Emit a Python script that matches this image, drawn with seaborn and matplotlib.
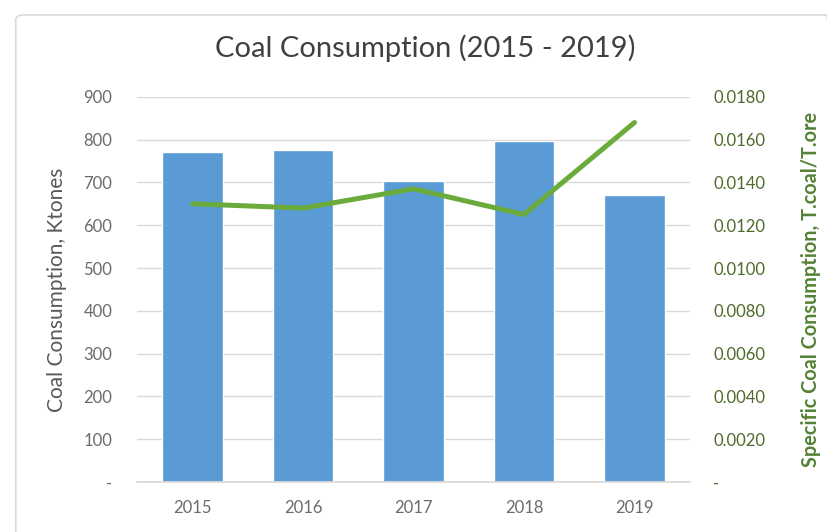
import matplotlib
matplotlib.use("Agg")
import matplotlib.pyplot as plt
import seaborn as sns
import numpy as np
from matplotlib.patches import FancyBboxPatch
from matplotlib.ticker import FixedLocator, FuncFormatter

years = ["2015", "2016", "2017", "2018", "2019"]
coal_ktones = [771, 776, 703, 797, 670]
specific_coal = [0.0130, 0.0128, 0.0137, 0.0125, 0.0168]
left_ticks = [0, 100, 200, 300, 400, 500, 600, 700, 800, 900]
right_ticks = [0, 0.002, 0.004, 0.006, 0.008, 0.010, 0.012, 0.014, 0.016, 0.018]

sns.set_theme(style="white")
plt.rcParams['font.family'] = ['Lato', 'DejaVu Sans']

fig = plt.figure(figsize=(8.27, 5.32), dpi=100)
fig.patch.set_facecolor("white")
frame = FancyBboxPatch((0.019, -0.05), 0.99, 1.022, boxstyle="round,pad=0,rounding_size=0.01",
                       transform=fig.transFigure, fill=False, edgecolor="#d9d9d9", linewidth=1.2)
fig.patches.append(frame)

ax = fig.add_axes([0.166, 0.094, 0.668, 0.724])
sns.barplot(x=years, y=coal_ktones, color="#5B9BD5", saturation=1, width=0.55, ax=ax)
ax.set_ylim(0, 900)
ax.yaxis.set_major_locator(FixedLocator(left_ticks))
ax.yaxis.set_major_formatter(FuncFormatter(lambda v, p: "-" if v == 0 else f"{int(v)}"))
ax.grid(axis="y", color="#d9d9d9", linewidth=1)
ax.set_axisbelow(True)
for s in ax.spines.values():
    s.set_visible(False)
ax.spines["bottom"].set_visible(True)
ax.spines["bottom"].set_color("#d9d9d9")
ax.tick_params(axis="both", length=0, labelsize=12, colors="#6b6b6b")
ax.tick_params(axis="y", pad=18)
ax.tick_params(axis="x", pad=13)
ax.set_xlabel("")
ax.set_ylabel("Coal Consumption, Ktones", fontsize=15, color="#595959", labelpad=12)

ax2 = ax.twinx()
sns.pointplot(x=years, y=specific_coal, color="#6AAB3C", markers="", linewidth=3.6, ax=ax2)
ax2.set_ylim(0, 0.018)
ax2.yaxis.set_major_locator(FixedLocator(right_ticks))
ax2.yaxis.set_major_formatter(FuncFormatter(lambda v, p: "-" if abs(v) < 1e-12 else f"{v:.4f}"))
for s in ax2.spines.values():
    s.set_visible(False)
ax2.tick_params(axis="y", length=0, labelsize=12, colors="#4E6B2A", pad=17)
ax2.set_ylabel("Specific Coal Consumption, T.coal/T.ore", fontsize=14.3, color="#548235",
               fontweight="bold", labelpad=26)
ax2.grid(False)

fig.suptitle("Coal Consumption (2015 - 2019)", x=0.514, y=0.935, fontsize=21, color="#404040")

fig.savefig("out.png", dpi=100, facecolor="white")
